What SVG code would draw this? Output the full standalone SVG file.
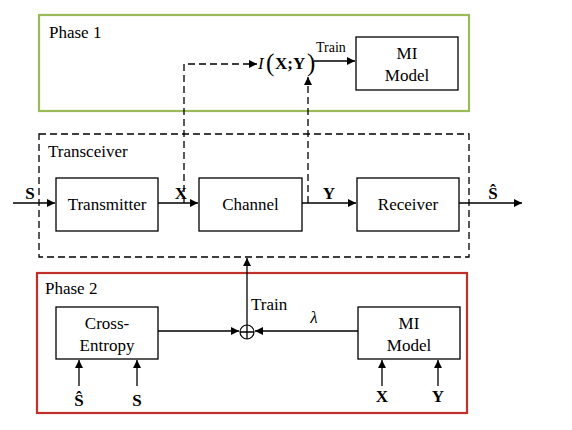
<svg xmlns="http://www.w3.org/2000/svg" width="572" height="430" viewBox="0 0 572 430" font-family="'Liberation Serif','Times New Roman',serif">
<defs>
<style>
text{font-family:"Liberation Serif","Times New Roman",serif;fill:#000}
.t{font-size:17px}
.c{text-anchor:middle}
.b{font-weight:bold}
.box{fill:#fff;stroke:#000;stroke-width:1.3}
.ln{stroke:#000;stroke-width:1.3;fill:none}
.dash{stroke:#000;stroke-width:1.3;fill:none;stroke-dasharray:7,4}
</style>
<marker id="ah" viewBox="0 0 10 10" refX="10" refY="5" markerWidth="10" markerHeight="8" markerUnits="userSpaceOnUse" orient="auto">
<path d="M0,0 L10,5 L0,10 Z" fill="#000"/>
</marker>
</defs>
<rect width="572" height="430" fill="#fff"/>
<g id="phase1">
<rect x="39" y="15" width="430" height="96" fill="none" stroke="#9BBB59" stroke-width="2.2"/>
<text x="49" y="38" class="t">Phase 1</text>
</g>
<g id="transceiver">
<rect x="39" y="134" width="430" height="123" fill="none" class="dash"/>
<text x="48" y="157" class="t">Transceiver</text>
</g>
<g id="phase2">
<rect x="37" y="273" width="430" height="140" fill="none" stroke="#C0302B" stroke-width="2.2"/>
<text x="45" y="294" class="t">Phase 2</text>
</g>
<g id="mi1">
<rect x="356" y="37" width="102" height="53" class="box"/>
<text x="407" y="59" class="t c">MI</text>
<text x="407" y="81" class="t c">Model</text>
</g>
<g id="ixy">
<text x="258" y="69" class="t" font-style="italic">I</text>
<text x="266" y="71" font-size="25px">(</text>
<text x="275" y="69" class="t b">X;Y</text>
<text x="307" y="71" font-size="25px">)</text>
</g>
<g id="transmitter">
<rect x="56" y="178" width="102" height="53" class="box"/>
<text x="107" y="210" class="t c">Transmitter</text>
</g>
<g id="channel">
<rect x="199" y="178" width="103" height="53" class="box"/>
<text x="250.5" y="210" class="t c">Channel</text>
</g>
<g id="receiver">
<rect x="357" y="178" width="102" height="53" class="box"/>
<text x="408" y="210" class="t c">Receiver</text>
</g>
<g id="crossentropy">
<rect x="56" y="307" width="102" height="52" class="box"/>
<text x="107" y="329" class="t c">Cross-</text>
<text x="107" y="351" class="t c">Entropy</text>
</g>
<g id="mi2">
<rect x="358" y="307" width="102" height="52" class="box"/>
<text x="409" y="329" class="t c">MI</text>
<text x="409" y="351" class="t c">Model</text>
</g>
<g id="sum">
<circle cx="247" cy="332" r="7" fill="#fff" stroke="#000" stroke-width="1.2"/>
<path d="M240,332 H254 M247,325 V339" class="ln" stroke-width="1.1"/>
</g>
<g id="connectors">
<path d="M184,203 V64 H257" class="dash" marker-end="url(#ah)"/>
<path d="M308,203 V77" class="dash" marker-end="url(#ah)"/>
<path d="M314,61 H355" class="ln" marker-end="url(#ah)"/>
<path d="M13,203 H55" class="ln" marker-end="url(#ah)"/>
<path d="M158,203 H198" class="ln" marker-end="url(#ah)"/>
<path d="M302,203 H356" class="ln" marker-end="url(#ah)"/>
<path d="M459,203 H522" class="ln" marker-end="url(#ah)"/>
<path d="M247,325 V258" class="ln" marker-end="url(#ah)"/>
<path d="M158,331 H239" class="ln" marker-end="url(#ah)"/>
<path d="M358,331 H255" class="ln" marker-end="url(#ah)"/>
<path d="M79,386 V360" class="ln" marker-end="url(#ah)"/>
<path d="M137,386 V360" class="ln" marker-end="url(#ah)"/>
<path d="M382,386 V360" class="ln" marker-end="url(#ah)"/>
<path d="M438,386 V360" class="ln" marker-end="url(#ah)"/>
</g>
<g id="labels">
<text x="316" y="52" font-size="14px">Train</text>
<text x="30" y="199" class="t b c">S</text>
<text x="181" y="199" class="t b c">X</text>
<text x="329" y="199" class="t b c">Y</text>
<text x="493" y="199" class="t b c">Ŝ</text>
<text x="251" y="310" class="t">Train</text>
<text x="314" y="323" class="t c" font-style="italic">λ</text>
<text x="79" y="406" class="t b c">Ŝ</text>
<text x="137" y="406" class="t b c">S</text>
<text x="382" y="402" class="t b c">X</text>
<text x="438" y="402" class="t b c">Y</text>
</g>
</svg>
